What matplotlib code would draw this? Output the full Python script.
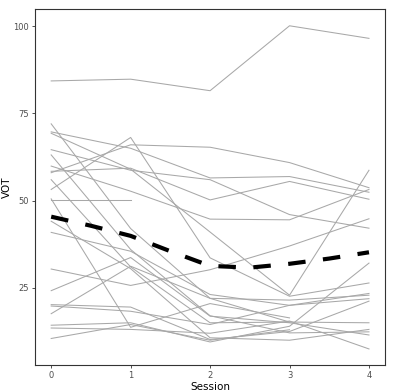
import numpy as np
import matplotlib.pyplot as plt

sessions = [0, 1, 2, 3, 4]
nan = np.nan

# VOT per subject per session (nan = missing)
subj_vot = [
    [84.3, 84.8, 81.5, 100.1, 96.5],
    [72.0, 42.0, 22.0, 15.2, 15.0],
    [69.7, 65.0, 56.5, 56.9, 52.4],
    [69.3, 59.0, 41.0, 22.9, 58.7],
    [64.6, 58.7, 56.0, 46.0, 42.1],
    [63.1, 36.0, 17.0, 12.1, 12.4],
    [59.9, 52.7, 44.7, 44.5, 53.2],
    [58.4, 59.3, 50.2, 55.5, 50.4],
    [58.0, 66.0, 65.3, 60.9, 53.7],
    [56.0, 31.0, 15.0, 15.2, nan],
    [53.2, 68.1, 33.6, 22.6, 26.4],
    [50.2, 50.2, nan, nan, nan],
    [44.1, 30.5, 10.7, 10.0, 13.1],
    [40.9, 35.5, 23.1, 20.0, 21.9],
    [30.4, 25.7, 30.2, 37.0, 44.8],
    [24.2, 33.7, 16.9, 15.0, 11.5],
    [20.2, 19.5, 10.2, 12.5, 21.2],
    [19.8, 18.3, 14.5, 20.0, 23.4],
    [17.6, 31.2, 22.0, 21.5, 22.9],
    [14.3, 15.0, 9.5, 14.0, 32.1],
    [13.5, 13.1, 12.0, 15.5, 7.5],
    [50.5, 13.7, 20.5, 16.4, nan],
    [10.5, 14.5, 10.0, 13.0, nan],
]

# smoothed group trend (dashed)
trend_x = [0, 0.5, 1, 1.5, 2, 2.5, 3, 3.5, 4]
trend_y = [45.4, 42.8, 39.9, 35.5, 31.3, 30.8, 31.9, 33.4, 35.2]

fig = plt.figure(figsize=(4.03, 3.91), dpi=100)
ax = fig.add_axes([0.0876, 0.0665, 0.955 - 0.0876, 0.976 - 0.0665])

for row in subj_vot:
    ax.plot(sessions, row, color='#a8a8a8', lw=0.75)

ax.plot(trend_x, trend_y, color='black', lw=3.0, dashes=(4.2, 4.2),
        solid_capstyle='butt', dash_capstyle='butt')

ax.set_xlim(-0.2, 4.2)
ax.set_ylim(2.9, 104.8)
ax.set_xticks(sessions)
ax.set_yticks([25, 50, 75, 100])
ax.tick_params(labelsize=6, colors='#333333', length=2.5, width=0.6,
               labelcolor='#4d4d4d', pad=2)
for s in ax.spines.values():
    s.set_color('#333333')
    s.set_linewidth(0.8)
ax.set_xlabel('Session', fontsize=7.5, labelpad=1)
ax.set_ylabel('VOT', fontsize=7.5, labelpad=1)

fig.savefig('out.png', dpi=100)
